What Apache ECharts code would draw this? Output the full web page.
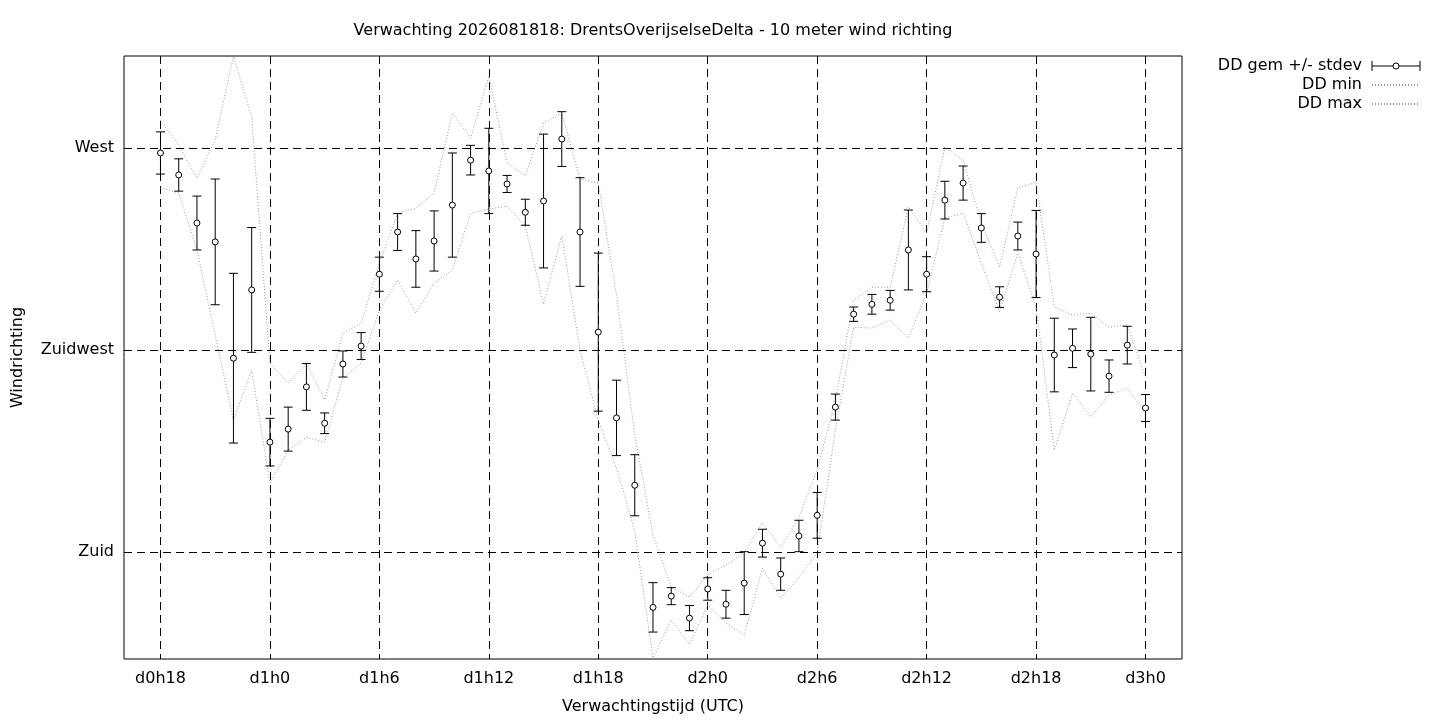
<!DOCTYPE html>
<html>
<head>
<meta charset="utf-8">
<title>DD verwachting</title>
<script src="https://cdn.jsdelivr.net/npm/echarts@6/dist/echarts.min.js"></script>
<style>
  html, body { margin: 0; padding: 0; background: #fff; }
  #main { width: 1440px; height: 720px; }
</style>
</head>
<body>
<div id="main"></div>
<script>
// uren sinds d0h0
var hours = [18, 19, 20, 21, 22, 23, 24, 25, 26, 27, 28, 29, 30, 31, 32, 33, 34, 35, 36, 37,
    38, 39, 40, 41, 42, 43, 44, 45, 46, 47, 48, 49, 50, 51, 52, 53, 54, 55, 56, 57,
    58, 59, 60, 61, 62, 63, 64, 65, 66, 67, 68, 69, 70, 71, 72];

var ddMean = [268.9, 264.0, 253.3, 249.1, 223.2, 238.4, 204.5, 207.4, 216.8, 208.7,
    221.9, 225.9, 241.9, 251.3, 245.3, 249.3, 257.3, 267.3, 264.9, 262.0,
    255.7, 258.2, 272.0, 251.3, 229.0, 209.9, 194.9, 167.7, 170.2, 165.3,
    171.8, 168.4, 173.1, 182.0, 175.1, 183.6, 188.2, 212.3, 233.0, 235.2,
    236.1, 247.3, 241.9, 258.4, 262.2, 252.2, 236.8, 250.4, 246.4, 223.9,
    225.4, 224.1, 219.2, 226.1, 212.1];

var ddStdev = [4.7, 3.6, 6.0, 14.0, 18.9, 13.9, 5.3, 4.9, 5.2, 2.3,
    2.9, 3.0, 3.8, 4.1, 6.3, 6.7, 11.6, 3.3, 9.5, 1.9,
    2.9, 14.9, 6.1, 12.1, 17.6, 8.4, 6.8, 5.5, 1.9, 2.8,
    2.5, 3.1, 7.0, 3.1, 3.6, 3.5, 5.1, 2.9, 1.6, 2.2,
    2.2, 8.9, 3.9, 4.2, 3.8, 3.2, 2.3, 3.1, 9.7, 8.2,
    4.3, 8.2, 3.6, 4.2, 3.0];

var ddMin = [261.1, 260.0, 247.3, 228.3, 209.4, 220.5, 195.4, 202.7, 205.6, 204.5,
    218.8, 222.1, 233.9, 240.6, 233.2, 239.9, 242.8, 255.5, 256.4, 257.1,
    252.6, 235.2, 250.4, 225.0, 209.4, 198.7, 184.7, 156.4, 164.9, 159.5,
    168.2, 164.2, 161.5, 176.4, 169.7, 174.4, 179.8, 207.2, 230.1, 229.9,
    231.7, 227.7, 237.7, 254.4, 255.5, 244.4, 233.5, 246.6, 234.6, 202.7,
    215.4, 210.1, 215.0, 216.5, 211.0];

var ddMax = [276.2, 270.7, 263.3, 271.8, 290.4, 276.9, 222.1, 217.6, 222.1, 213.9,
    228.8, 231.0, 244.4, 255.5, 256.6, 260.0, 277.8, 272.2, 286.0, 266.7,
    263.8, 275.6, 277.8, 263.1, 262.2, 237.3, 206.1, 183.8, 172.2, 170.0,
    174.9, 177.1, 180.0, 186.5, 181.1, 187.8, 198.3, 213.9, 236.1, 239.0,
    239.0, 256.9, 251.1, 270.2, 267.3, 253.3, 243.5, 261.1, 262.4, 234.6,
    232.8, 233.2, 230.1, 230.6, 219.0];

var xTicks = [18, 24, 30, 36, 42, 48, 54, 60, 66, 72];
var xTickLabels = ['d0h18', 'd1h0', 'd1h6', 'd1h12', 'd1h18', 'd2h0', 'd2h6', 'd2h12', 'd2h18', 'd3h0'];
var yTicks = [180, 225, 270];
var yTickLabels = ['Zuid', 'Zuidwest', 'West'];

var font = 'DejaVu Sans';

function zip(xs, ys) {
    return xs.map(function (x, i) { return [x, ys[i]]; });
}

function renderErrorBar(params, api) {
    var x = api.value(0), m = api.value(1), s = api.value(2);
    var c = api.coord([x, m]);
    var hi = api.coord([x, m + s]);
    var lo = api.coord([x, m - s]);
    var w = 4.5;
    var st = { stroke: '#000', lineWidth: 1 };
    return {
        type: 'group',
        children: [
            { type: 'line', shape: { x1: hi[0], y1: hi[1], x2: lo[0], y2: lo[1] }, style: st },
            { type: 'line', shape: { x1: hi[0] - w, y1: hi[1], x2: hi[0] + w, y2: hi[1] }, style: st },
            { type: 'line', shape: { x1: lo[0] - w, y1: lo[1], x2: lo[0] + w, y2: lo[1] }, style: st },
            { type: 'circle', shape: { cx: c[0], cy: c[1], r: 3 }, style: { fill: '#fff', stroke: '#000', lineWidth: 1 } }
        ]
    };
}

var myChart = echarts.init(document.getElementById('main'));
var option = {
    backgroundColor: '#fff',
    animation: false,
    title: {
        text: 'Verwachting 2026081818: DrentsOverijselseDelta - 10 meter wind richting',
        left: 648,
        top: 18,
        textAlign: 'center',
        textStyle: { fontFamily: font, fontSize: 16, fontWeight: 'normal', color: '#000' }
    },
    legend: {
        orient: 'vertical',
        right: 14,
        top: 53,
        align: 'right',
        itemWidth: 48,
        itemHeight: 10,
        itemGap: 3,
        textStyle: { fontFamily: font, fontSize: 16, color: '#000', padding: [0, 5, 0, 0] },
        data: [
            {
                name: 'DD gem +/- stdev',
                icon: 'path://M0,0L0,10M0,5L21,5M27,5A3,3,0,1,1,21,5A3,3,0,1,1,27,5M27,5L48,5M48,0L48,10',
                itemStyle: { color: '#fff', borderColor: '#000', borderWidth: 1 }
            },
            { name: 'DD min', itemStyle: { opacity: 0 } },
            { name: 'DD max', itemStyle: { opacity: 0 } }
        ]
    },
    grid: {
        left: 124,
        right: 258,
        top: 56,
        bottom: 61,
        show: true,
        borderColor: '#000',
        borderWidth: 1
    },
    xAxis: {
        type: 'value',
        min: 16,
        max: 74,
        name: 'Verwachtingstijd (UTC)',
        nameLocation: 'middle',
        nameGap: 40,
        nameTextStyle: { fontFamily: font, fontSize: 16, color: '#000' },
        axisLine: { show: false },
        axisTick: { show: false, customValues: xTicks },
        axisLabel: {
            customValues: xTicks,
            margin: 12,
            fontFamily: font,
            fontSize: 16,
            color: '#000',
            formatter: function (v) { return xTickLabels[xTicks.indexOf(v)]; }
        },
        splitLine: { show: true, lineStyle: { color: '#000', width: 1, type: [8, 5] } }
    },
    yAxis: {
        type: 'value',
        min: 156.2,
        max: 290.5,
        name: 'Windrichting',
        nameLocation: 'middle',
        nameGap: 98,
        nameRotate: 90,
        nameTextStyle: { fontFamily: font, fontSize: 16, color: '#000' },
        axisLine: { show: false },
        axisTick: { show: false, customValues: yTicks },
        axisLabel: {
            customValues: yTicks,
            margin: 10,
            fontFamily: font,
            fontSize: 16,
            color: '#000',
            formatter: function (v) { return yTickLabels[yTicks.indexOf(v)]; }
        },
        splitLine: { show: true, lineStyle: { color: '#000', width: 1, type: [8, 5] } }
    },
    series: [
        {
            name: 'DD min',
            type: 'line',
            data: zip(hours, ddMin),
            symbol: 'none',
            lineStyle: { color: '#999', width: 1, type: [1, 2] },
            itemStyle: { color: '#999' },
            z: 2
        },
        {
            name: 'DD max',
            type: 'line',
            data: zip(hours, ddMax),
            symbol: 'none',
            lineStyle: { color: '#999', width: 1, type: [1, 2] },
            itemStyle: { color: '#999' },
            z: 2
        },
        {
            name: 'DD gem +/- stdev',
            type: 'custom',
            renderItem: renderErrorBar,
            data: hours.map(function (h, i) { return [h, ddMean[i], ddStdev[i]]; }),
            encode: { x: 0, y: 1 },
            itemStyle: { color: '#000' },
            z: 3
        }
    ]
};
myChart.setOption(option);
</script>
</body>
</html>
